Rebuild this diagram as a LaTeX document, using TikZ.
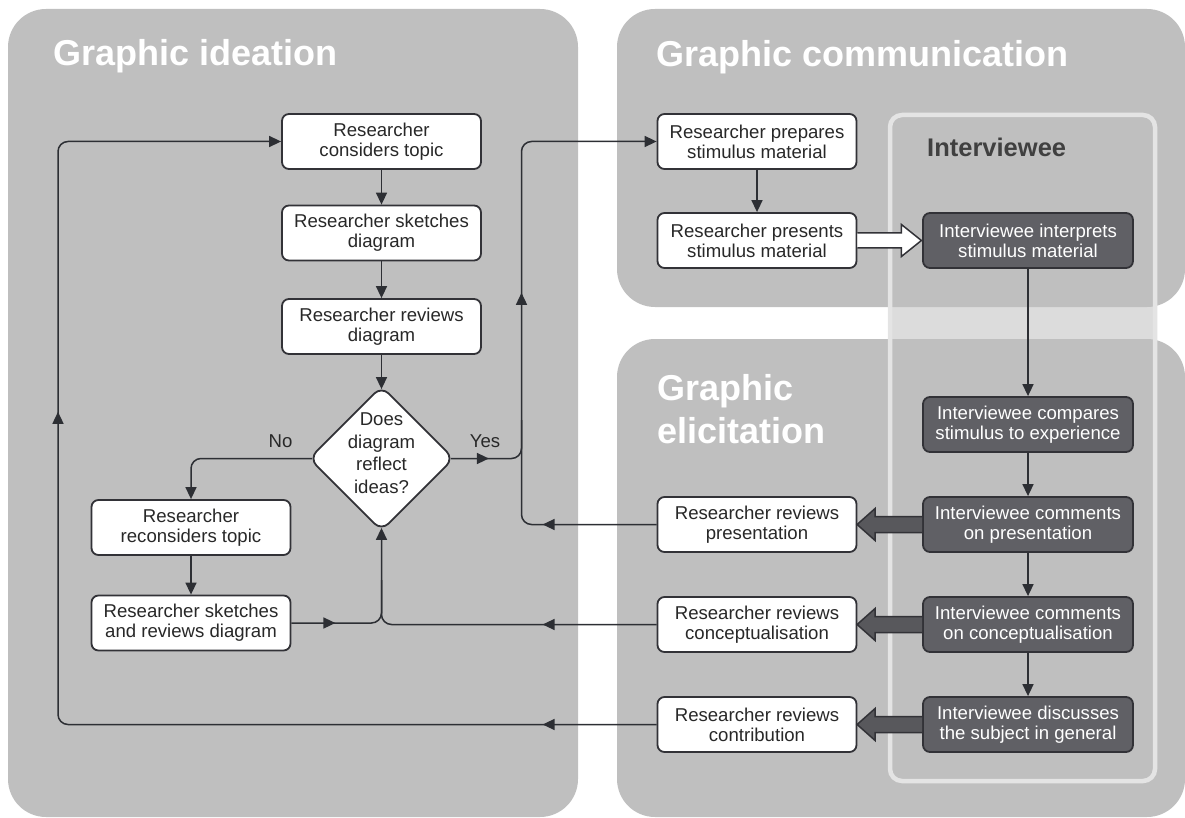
\documentclass[tikz,border=0pt]{standalone}
\usepackage{fontspec}
\setmainfont{Liberation Sans}
\usetikzlibrary{arrows.meta,shapes.geometric,decorations.markings,calc}
\definecolor{panelc}{RGB}{191,191,191}
\definecolor{gapc}{RGB}{220,220,220}
\definecolor{intb}{RGB}{228,228,228}
\definecolor{boxline}{RGB}{50,50,55}
\definecolor{linec}{RGB}{45,47,52}
\definecolor{darkc}{RGB}{96,96,101}
\definecolor{arrowd}{RGB}{88,88,92}
\definecolor{txt}{RGB}{40,40,40}
\definecolor{intc}{RGB}{64,64,64}
\tikzset{
  panel/.style={fill=panelc, rounded corners=38pt},
  titletext/.style={font=\bfseries\fontsize{36}{40}\selectfont, text=white, inner sep=0pt, anchor=base west},
  wbox/.style={draw=boxline, line width=1.8pt, fill=white, rounded corners=7pt,
    minimum width=199pt, minimum height=55pt, inner sep=0pt, align=center,
    text=txt, font=\fontsize{18.6}{20}\selectfont},
  dbox/.style={wbox, fill=darkc, text=white, minimum width=210pt},
  diam/.style={diamond, draw=boxline, line width=1.8pt, fill=white, rounded corners=10pt,
    minimum width=145pt, minimum height=145pt, inner sep=0pt},
  dtext/.style={align=center, text=txt, inner sep=0pt, font=\fontsize{18.6}{22.5}\selectfont},
  lbl/.style={text=txt, inner sep=0pt, anchor=base, font=\fontsize{18.6}{20}\selectfont},
  conn/.style={draw=linec, line width=1.5pt, rounded corners=10pt},
  marks/.style={postaction={decorate}, decoration={markings, #1}},
  blockw/.style={fill=white, draw=boxline, line width=1.5pt, line join=miter},
  blockd/.style={fill=arrowd, draw=boxline, line width=1.5pt, line join=miter}
}
\begin{document}
\begin{tikzpicture}[x=1pt, y=-1pt, >={Triangle[length=12pt,width=11pt]}]
\useasboundingbox (0,0) rectangle (1185,818);
% panels
\fill[gapc, rounded corners=12pt] (890,115) rectangle (1155,781);
\fill[panel] (8,9) rectangle (578,817);
\fill[panel] (617,9) rectangle (1185,307);
\fill[panel] (617,339) rectangle (1185,817);
\draw[intb, line width=4.5pt, rounded corners=12pt] (890,115) rectangle (1155,781);
% titles
\node[titletext] (t1) at (53,66) {Graphic ideation};
\node[titletext] (t2) at (656,67) {Graphic communication};
\node[titletext] (t3a) at (657,400) {Graphic};
\node[titletext] (t3b) at (657,443) {elicitation};
\node[anchor=base west, inner sep=0pt, text=intc, font=\bfseries\fontsize{25.5}{28}\selectfont] (ilab) at (927,157) {Interviewee};
% ideation nodes
\node[wbox] (b1) at (381.5,141.5) {Researcher\\considers topic};
\node[wbox] (b2) at (381.5,233) {Researcher sketches\\diagram};
\node[wbox] (b3) at (381.5,326.5) {Researcher reviews\\diagram};
\node[diam] (dia) at (381.5,458.5) {};
\node[dtext] (diat) at (381.5,453) {Does\\diagram\\reflect\\ideas?};
\node[wbox] (b5) at (191,527.5) {Researcher\\reconsiders topic};
\node[wbox] (b6) at (191,623) {Researcher sketches\\and reviews diagram};
\node[lbl] (no) at (280.5,447) {No};
\node[lbl] (yes) at (485,447) {Yes};
% communication / elicitation nodes
\node[wbox] (prep) at (757,141.5) {Researcher prepares\\stimulus material};
\node[wbox] (pres) at (757,240.5) {Researcher presents\\stimulus material};
\node[dbox] (interp) at (1028,240.5) {Interviewee interprets\\stimulus material};
\node[dbox] (comp) at (1028,424.5) {Interviewee compares\\stimulus to experience};
\node[dbox] (icp) at (1028,524.5) {Interviewee comments\\on presentation};
\node[dbox] (icc) at (1028,624.5) {Interviewee comments\\on conceptualisation};
\node[dbox] (ids) at (1028,724.5) {Interviewee discusses\\the subject in general};
\node[wbox] (rpres) at (757,524.5) {Researcher reviews\\presentation};
\node[wbox] (rcon) at (757,624.5) {Researcher reviews\\conceptualisation};
\node[wbox] (rcontrib) at (757,724.5) {Researcher reviews\\contribution};
% helper coordinates
\coordinate (dN) at ($(dia.north)+(0,4)$);
\coordinate (dS) at ($(dia.south)+(0,-4)$);
\coordinate (dW) at ($(dia.west)+(4,0)$);
\coordinate (dE) at ($(dia.east)+(-4,0)$);
\coordinate (j1) at (381.5,580);
\coordinate (yc) at (521.5,300);
\coordinate (j2) at (521.5,420);
\coordinate (lc) at (58,500);
% ideation connectors
\draw[conn,->] (b1) -- (b2);
\draw[conn,->] (b2) -- (b3);
\draw[conn,->] (b3) -- (dN);
\draw[conn,->] (dW) -| (b5.north);
\draw[conn,->] (b5) -- (b6);
\draw[conn,->,marks={mark=at position 44pt with {\arrow{>}}}] (b6.east) -| (dS);
\draw[conn,marks={mark=at position 114pt with {\arrow{>}}}] (rcon.west) -| (j1);
\draw[conn,->,marks={mark=at position 38pt with {\arrow{>}}, mark=at position 232pt with {\arrow{>}}}] (dE) -| (yc) |- (prep.west);
\draw[conn,marks={mark=at position 114pt with {\arrow{>}}}] (rpres.west) -| (j2);
\draw[conn,->,marks={mark=at position 114pt with {\arrow{>}}, mark=at position 907pt with {\arrow{>}}}] (rcontrib.west) -| (lc) |- (b1.west);
% communication connectors
\draw[conn,->] (prep) -- (pres);
\draw[conn,->] (interp) -- (comp);
\draw[conn,->] (comp) -- (icp);
\draw[conn,->] (icp) -- (icc);
\draw[conn,->] (icc) -- (ids);
% block arrows
\draw[blockw] (pres.east) ++(0,-7.5) -- ++(44,0) -- ++(0,-8.5) -- ++(20,16) -- ++(-20,16) -- ++(0,-8.5) -- ++(-44,0);
\draw[blockd] (icp.west) ++(0,-8) -- ++(-47,0) -- ++(0,-8) -- ++(-18,16) -- ++(18,16) -- ++(0,-8) -- ++(47,0);
\draw[blockd] (icc.west) ++(0,-8) -- ++(-47,0) -- ++(0,-8) -- ++(-18,16) -- ++(18,16) -- ++(0,-8) -- ++(47,0);
\draw[blockd] (ids.west) ++(0,-8) -- ++(-47,0) -- ++(0,-8) -- ++(-18,16) -- ++(18,16) -- ++(0,-8) -- ++(47,0);
\end{tikzpicture}
\end{document}
